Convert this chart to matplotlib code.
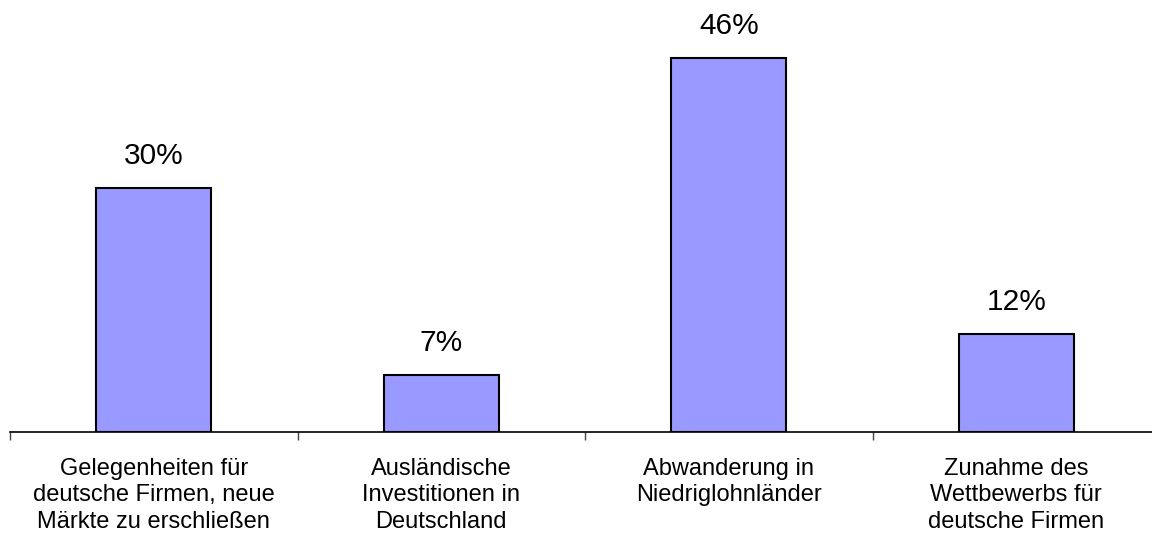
import matplotlib.pyplot as plt
import numpy as np

plt.rcParams['font.family'] = ['Liberation Sans', 'DejaVu Sans']

categories = [
    "Gelegenheiten für\ndeutsche Firmen, neue\nMärkte zu erschließen",
    "Ausländische\nInvestitionen in\nDeutschland",
    "Abwanderung in\nNiedriglohnländer",
    "Zunahme des\nWettbewerbs für\ndeutsche Firmen",
]
values = [30, 7, 46, 12]

fig = plt.figure(figsize=(11.52, 5.33), dpi=100)
ax = fig.add_axes([10 / 1152, 101 / 533, 1150 / 1152, 432 / 533])

x = np.arange(len(categories))
ax.bar(x, values, width=0.4, color='#9999FF', edgecolor='black', linewidth=1.5)

for xi, v in zip(x, values):
    ax.text(xi, v + 2.2, f"{v}%", ha='center', va='bottom', fontsize=21.5)

ax.set_xlim(-0.5, len(categories) - 0.5)
ax.set_ylim(0, 53.1)

ax.set_xticks(x)
ax.set_xticklabels(categories, fontsize=17, linespacing=1.27)
ax.tick_params(axis='x', which='major', length=0, pad=18.5)
ax.set_xticks(np.arange(len(categories) + 1) - 0.5, minor=True)
ax.tick_params(axis='x', which='minor', length=6, width=1, direction='out', color='#444444')
ax.set_yticks([])

for side in ['top', 'right', 'left']:
    ax.spines[side].set_visible(False)
ax.spines['bottom'].set_linewidth(1.2)

fig.savefig('out.png', dpi=100)
